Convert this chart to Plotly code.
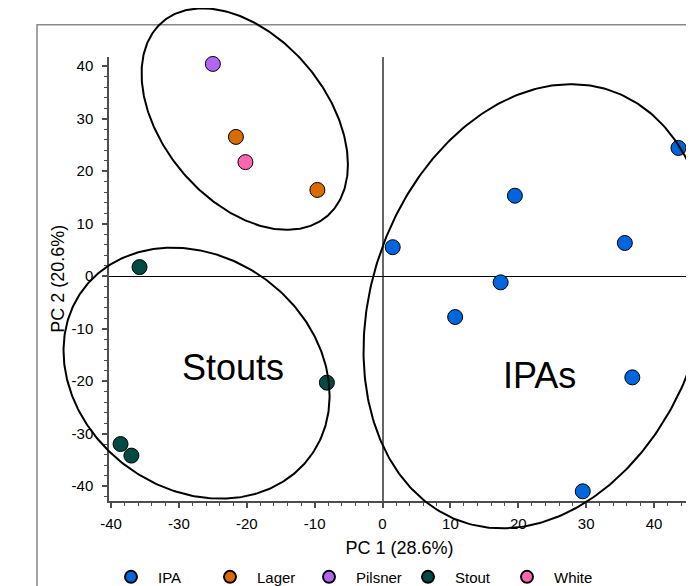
import numpy as np
import plotly.graph_objects as go

# ---------------- data ----------------
groups = ["IPA", "Lager", "Pilsner", "Stout", "White"]
colors = ["#0066DD", "#D96C00", "#B066F0", "#004A44", "#FF66B2"]

ipa_pc1 = [1.5, 19.5, 17.4, 35.7, 43.6, 10.7, 36.8, 29.5]
ipa_pc2 = [5.5, 15.3, -1.2, 6.3, 24.4, -7.8, -19.3, -41.0]
lager_pc1 = [-21.6, -9.6]
lager_pc2 = [26.5, 16.4]
pilsner_pc1 = [-25.0]
pilsner_pc2 = [40.4]
stout_pc1 = [-35.8, -8.2, -38.6, -37.0]
stout_pc2 = [1.7, -20.3, -32.0, -34.2]
white_pc1 = [-20.2]
white_pc2 = [21.7]

series_x = [ipa_pc1, lager_pc1, pilsner_pc1, stout_pc1, white_pc1]
series_y = [ipa_pc2, lager_pc2, pilsner_pc2, stout_pc2, white_pc2]

# ellipses (data units): centre, half-width, half-height, correlation
ell_cx = [-20.3, -27.4, 22.7]
ell_cy = [29.9, -18.5, -5.75]
ell_rx = [15.2, 19.6, 25.5]
ell_ry = [21.1, 23.9, 42.3]
ell_rho = [-0.41, -0.18, 0.20]

label_text = ["Stouts", "IPAs"]
label_x = [-22.0, 23.1]
label_y = [-17.45, -18.85]

x_title = "PC 1 (28.6%)"
y_title = "PC 2 (20.6%)"
x_range = [-40.3, 45.3]
y_range = [-42.8, 41.8]
x_ticks = [-40, -30, -20, -10, 0, 10, 20, 30, 40]
y_ticks = [-40, -30, -20, -10, 0, 10, 20, 30, 40]
x_ticktext = [str(v) for v in x_ticks]
y_ticktext = [str(v) for v in y_ticks]

# ---------------- layout geometry (px) ----------------
W, H = 694, 586
OFF = 8  # page body margin
pl, pr, pt, pb = 109 - OFF, 690 - OFF, 57 - OFF, 505 - OFF   # plot area edges

xdom = [pl / W, pr / W]
ydom = [(H - pb) / H, (H - pt) / H]
upx = (x_range[1] - x_range[0]) / (pr - pl)
upy = (y_range[1] - y_range[0]) / (pb - pt)
x2_range = [x_range[0] - pl * upx, x_range[1] + (W - pr) * upx]
y2_range = [y_range[0] - (H - pb) * upy, y_range[1] + pt * upy]

font_fam = "Arial, Liberation Sans, sans-serif"

fig = go.Figure()

for name, col, xs, ys in zip(groups, colors, series_x, series_y):
    fig.add_trace(go.Scatter(
        x=xs, y=ys, mode="markers", name=name,
        marker=dict(size=15, color=col, line=dict(color="black", width=1)),
        xaxis="x", yaxis="y", cliponaxis=False,
    ))

t = np.linspace(0, 2 * np.pi, 361)
for cx, cy, rx, ry, rho in zip(ell_cx, ell_cy, ell_rx, ell_ry, ell_rho):
    ex = cx + rx * np.cos(t)
    ey = cy + rho * ry * np.cos(t) + ry * np.sqrt(1 - rho ** 2) * np.sin(t)
    fig.add_trace(go.Scatter(
        x=ex, y=ey, mode="lines", line=dict(color="black", width=2),
        showlegend=False, hoverinfo="skip", xaxis="x2", yaxis="y2",
    ))

for txt, lx, ly in zip(label_text, label_x, label_y):
    fig.add_annotation(x=lx, y=ly, xref="x", yref="y", text=txt,
                       showarrow=False, font=dict(size=36, color="black", family=font_fam))

axis_col = "#4d4d4d"
fig.update_layout(
    width=W, height=H,
    margin=dict(l=0, r=0, t=0, b=0),
    paper_bgcolor="white", plot_bgcolor="rgba(0,0,0,0)",
    font=dict(family=font_fam, size=15, color="black"),
    showlegend=True,
    legend=dict(orientation="h", x=96 / W, xanchor="left",
                y=(H - 574) / H, yanchor="middle",
                font=dict(size=15), entrywidth=40, itemwidth=44,
                itemsizing="constant", bgcolor="rgba(0,0,0,0)"),
    xaxis=dict(domain=xdom, range=x_range, anchor="y",
               showline=True, linecolor=axis_col, linewidth=1.5,
               ticks="outside", ticklen=5, tickcolor=axis_col, tickwidth=1.5,
               tickvals=x_ticks, ticktext=x_ticktext, ticklabelstandoff=3,
               showgrid=False,
               zeroline=True, zerolinecolor="#666666", zerolinewidth=1.5,
               minor=dict(dtick=2, tick0=0, ticks="outside", ticklen=3,
                          tickcolor=axis_col, tickwidth=1.2),
               title=dict(text=x_title, standoff=11), automargin=False,
               tickfont=dict(size=15)),
    yaxis=dict(domain=ydom, range=y_range, anchor="x",
               showline=True, linecolor=axis_col, linewidth=1.5,
               ticks="outside", ticklen=5, tickcolor=axis_col, tickwidth=1.5,
               tickvals=y_ticks, ticktext=y_ticktext, ticklabelstandoff=6,
               showgrid=False,
               zeroline=True, zerolinecolor="black", zerolinewidth=1.2,
               minor=dict(dtick=2, tick0=0, ticks="outside", ticklen=3,
                          tickcolor=axis_col, tickwidth=1.2),
               title=dict(text=y_title, standoff=2), automargin=False,
               tickfont=dict(size=15)),
    xaxis2=dict(domain=[0, 1], range=x2_range, anchor="y2", visible=False,
                showgrid=False, zeroline=False),
    yaxis2=dict(domain=[0, 1], range=y2_range, anchor="x2", visible=False,
                showgrid=False, zeroline=False),
)

# grey frame around the chart area
fig.add_shape(type="rect", xref="paper", yref="paper",
              x0=(37 - OFF) / W, x1=1.05, y0=-0.05, y1=(H - 25 + OFF) / H,
              line=dict(color="#888888", width=1.5), fillcolor="rgba(0,0,0,0)",
              layer="below")

fig.write_html("out.html")
